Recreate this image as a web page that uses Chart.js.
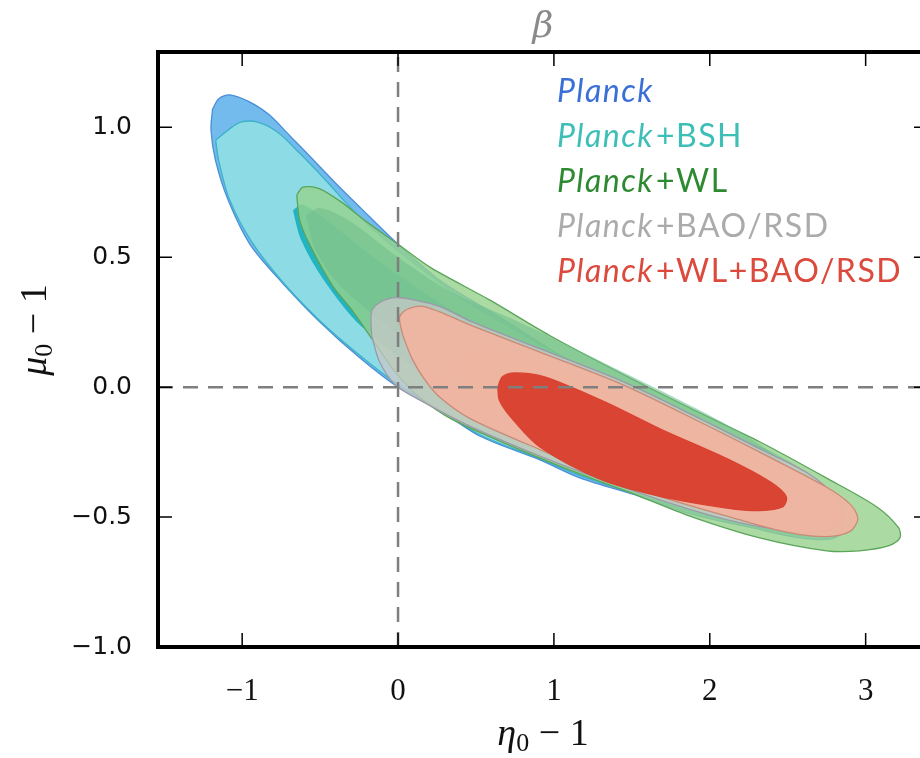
<!DOCTYPE html>
<html>
<head>
<meta charset="utf-8">
<script src="https://cdn.jsdelivr.net/npm/chart.js@4.4.1/dist/chart.umd.min.js"></script>
<style>
  html, body { margin: 0; padding: 0; background: #fff; overflow: hidden; }
  canvas { display: block; }
</style>
</head>
<body>
<canvas id="contourChart" width="960" height="758"></canvas>
<script>
// axis ticks
const xTickValues = [-1, 0, 1, 2, 3];
const xTickLabels = ['\u22121', '0', '1', '2', '3'];
const yTickValues = [-1, -0.5, 0, 0.5, 1];
const yTickLabels = ['\u22121.0', '\u22120.5', '0.0', '0.5', '1.0'];

// legend
const legendItalic = ['Planck', 'Planck', 'Planck', 'Planck', 'Planck'];
const legendRest = ['', '+BSH', '+WL', '+BAO/RSD', '+WL+BAO/RSD'];
const legendColors = ['#3a6fd8', '#3dbfb8', '#2e8a30', '#ababab', '#db4a3c'];

// contour outlines, [eta0-1, mu0-1]
const planckOuter = [[-1.19,1.07],[-1.15,1.11],[-1.08,1.125],[-0.96,1.10],[-0.83,1.05],[-0.69,0.965],[-0.56,0.885],[-0.40,0.785],[-0.24,0.69],[0.0,0.55],[0.27,0.41],[0.65,0.27],[1.23,0.05],[1.68,-0.10],[2.06,-0.18],[2.39,-0.26],[2.64,-0.34],[2.80,-0.42],[2.87,-0.50],[2.85,-0.56],[2.77,-0.585],[2.58,-0.58],[2.26,-0.54],[1.89,-0.49],[1.55,-0.42],[1.17,-0.35],[0.91,-0.28],[0.53,-0.19],[0.27,-0.09],[0.0,0.0],[-0.24,0.11],[-0.50,0.25],[-0.74,0.40],[-0.95,0.55],[-1.09,0.72],[-1.17,0.87],[-1.20,0.99]];
const planckInner = [[-0.72,0.76],[-0.64,0.775],[-0.44,0.70],[-0.12,0.53],[0.33,0.34],[0.97,0.14],[1.62,-0.05],[2.06,-0.20],[2.13,-0.27],[1.97,-0.30],[1.30,-0.20],[0.65,-0.05],[0.14,0.10],[-0.31,0.34],[-0.56,0.53],[-0.69,0.67]];
const bshOuter = [[-1.17,0.95],[-1.09,0.99],[-1.01,1.02],[-0.90,1.02],[-0.77,0.98],[-0.63,0.90],[-0.47,0.80],[-0.28,0.675],[-0.08,0.565],[0.14,0.46],[0.40,0.345],[0.78,0.21],[1.23,0.06],[1.68,-0.09],[2.06,-0.17],[2.39,-0.25],[2.64,-0.34],[2.79,-0.42],[2.85,-0.50],[2.82,-0.55],[2.74,-0.57],[2.58,-0.57],[2.26,-0.535],[1.89,-0.48],[1.55,-0.415],[1.17,-0.34],[0.91,-0.275],[0.53,-0.185],[0.27,-0.085],[0.0,0.01],[-0.24,0.12],[-0.50,0.255],[-0.74,0.405],[-0.94,0.56],[-1.08,0.72],[-1.15,0.87]];
const bshInner = [[-0.67,0.68],[-0.61,0.70],[-0.44,0.63],[-0.12,0.48],[0.33,0.30],[0.97,0.10],[1.62,-0.10],[2.0,-0.23],[2.03,-0.29],[1.87,-0.30],[1.30,-0.21],[0.65,-0.07],[0.14,0.07],[-0.24,0.24],[-0.48,0.42],[-0.62,0.57]];
const wlOuter = [[-0.65,0.74],[-0.61,0.77],[-0.51,0.765],[-0.37,0.715],[-0.21,0.64],[0.0,0.55],[0.21,0.46],[0.59,0.335],[0.97,0.20],[1.49,0.035],[1.94,-0.10],[2.32,-0.21],[2.75,-0.35],[3.07,-0.46],[3.21,-0.54],[3.22,-0.58],[3.15,-0.61],[2.96,-0.63],[2.75,-0.63],[2.32,-0.58],[1.89,-0.50],[1.55,-0.42],[1.17,-0.335],[0.78,-0.24],[0.35,-0.125],[0.14,-0.04],[-0.02,0.06],[-0.16,0.18],[-0.30,0.30],[-0.42,0.39],[-0.56,0.54],[-0.63,0.64]];
const wlInner = [[-0.59,0.66],[-0.50,0.69],[-0.31,0.64],[0.0,0.50],[0.33,0.37],[0.78,0.25],[1.30,0.10],[1.94,-0.09],[2.32,-0.22],[2.51,-0.32],[2.48,-0.38],[2.19,-0.36],[1.68,-0.26],[1.17,-0.15],[0.65,-0.03],[0.21,0.10],[-0.12,0.26],[-0.37,0.39],[-0.53,0.53]];
const baoOuter = [[-0.17,0.20],[-0.17,0.29],[-0.12,0.325],[-0.02,0.345],[0.11,0.335],[0.27,0.31],[0.48,0.25],[0.91,0.148],[1.44,0.022],[1.94,-0.122],[2.32,-0.237],[2.64,-0.335],[2.80,-0.42],[2.85,-0.49],[2.80,-0.54],[2.64,-0.56],[2.26,-0.53],[1.87,-0.47],[1.42,-0.38],[0.91,-0.265],[0.46,-0.15],[0.14,-0.05],[-0.02,0.01],[-0.12,0.10]];
const baoInner = [[0.37,0.06],[0.41,0.12],[0.53,0.15],[0.78,0.12],[1.30,0.0],[1.94,-0.16],[2.39,-0.30],[2.45,-0.38],[2.26,-0.40],[1.81,-0.35],[1.30,-0.25],[0.78,-0.13],[0.49,-0.04]];
const comboOuter = [[0.03,0.20],[0.01,0.27],[0.06,0.30],[0.17,0.31],[0.48,0.235],[0.91,0.135],[1.44,0.01],[1.94,-0.135],[2.32,-0.25],[2.75,-0.385],[2.90,-0.45],[2.95,-0.505],[2.90,-0.555],[2.75,-0.575],[2.51,-0.56],[2.19,-0.51],[1.55,-0.395],[0.91,-0.24],[0.46,-0.12],[0.27,-0.04],[0.17,0.03],[0.09,0.11]];
const comboInner = [[0.64,0.0],[0.67,0.04],[0.75,0.055],[0.94,0.04],[1.34,-0.06],[1.68,-0.16],[2.11,-0.275],[2.39,-0.365],[2.49,-0.42],[2.47,-0.46],[2.32,-0.475],[2.11,-0.465],[1.68,-0.42],[1.30,-0.355],[0.91,-0.23],[0.73,-0.12],[0.65,-0.05]];

// dashed reference lines
const zeroV = [[0, -1], [0, 1.29]];
const zeroH = [[-1.54, 0], [3.4, 0]];

const toPts = arr => arr.map(([x, y]) => ({ x, y }));
const closed = arr => toPts(arr.concat([arr[0]]));

function region(data, fillColor, lineColor) {
    return {
        data: closed(data),
        showLine: true,
        fill: 'shape',
        backgroundColor: fillColor,
        borderColor: lineColor,
        borderWidth: 1.3,
        pointRadius: 0,
        tension: 0.3
    };
}

// bottom layer first
const layers = [
    region(planckOuter, 'rgba(108,182,236,0.95)', '#4a8fd9'),
    region(planckInner, 'rgba(100,176,232,0.9)', 'rgba(100,176,232,0.9)'),
    region(bshOuter, 'rgba(143,221,229,0.95)', '#3cb2c8'),
    region(bshInner, 'rgba(30,178,192,0.95)', 'rgba(30,178,192,0.95)'),
    region(wlOuter, 'rgba(150,210,140,0.8)', '#5aa55a'),
    region(wlInner, 'rgba(110,190,140,0.55)', 'rgba(110,190,140,0.0)'),
    region(baoOuter, 'rgba(200,200,200,0.75)', '#9c9aa8'),
    region(baoInner, 'rgba(190,170,160,0.5)', 'rgba(190,170,160,0)'),
    region(comboOuter, 'rgba(242,180,160,0.92)', '#c98a78'),
    region(comboInner, 'rgba(217,65,47,0.97)', 'rgba(217,65,47,0.97)'),
    {
        data: toPts(zeroV), showLine: true, fill: false, borderColor: '#7f7f7f',
        borderWidth: 2.5, borderDash: [15, 10], pointRadius: 0
    },
    {
        data: toPts(zeroH), showLine: true, fill: false, borderColor: '#7f7f7f',
        borderWidth: 2.5, borderDash: [15, 10], pointRadius: 0
    }
];

// symbol (italic) + subscript 0 + upright " − 1", centred on (cx, cy)
function drawAxisLabel(ctx, symbol, cx, cy, angle) {
    const big = '38px "Liberation Serif"';
    const bigIt = 'italic 38px "Liberation Serif"';
    const small = '26px "Liberation Serif"';
    ctx.save();
    ctx.translate(cx, cy);
    ctx.rotate(angle);
    ctx.font = bigIt; const w1 = ctx.measureText(symbol).width;
    ctx.font = small; const w2 = ctx.measureText('0').width;
    ctx.font = big; const w3 = ctx.measureText(' \u2212 1').width;
    let x = -(w1 + w2 + w3) / 2;
    ctx.fillStyle = '#111';
    ctx.textBaseline = 'middle';
    ctx.textAlign = 'left';
    ctx.font = bigIt; ctx.fillText(symbol, x, 0); x += w1;
    ctx.font = small; ctx.fillText('0', x, 9); x += w2;
    ctx.font = big; ctx.fillText(' \u2212 1', x, 0);
    ctx.restore();
}

// frame, inward ticks, titles and legend
const decorations = {
    id: 'decorations',
    afterDraw(chart) {
        const { ctx, chartArea: a, scales } = chart;
        ctx.save();
        ctx.strokeStyle = '#000';
        ctx.lineWidth = 1.5;
        ctx.beginPath();
        xTickValues.forEach(v => {
            const px = scales.x.getPixelForValue(v);
            ctx.moveTo(px, a.top); ctx.lineTo(px, a.top + 14);
            ctx.moveTo(px, a.bottom); ctx.lineTo(px, a.bottom - 14);
        });
        yTickValues.forEach(v => {
            const py = scales.y.getPixelForValue(v);
            ctx.moveTo(a.left, py); ctx.lineTo(a.left + 14, py);
            ctx.moveTo(a.right, py); ctx.lineTo(a.right - 14, py);
        });
        ctx.stroke();

        ctx.lineWidth = 4;
        ctx.strokeRect(a.left, a.top, a.right - a.left, a.bottom - a.top);

        // panel title
        ctx.fillStyle = '#8a8a8a';
        ctx.font = 'italic 36px "DejaVu Serif"';
        ctx.textAlign = 'center';
        ctx.textBaseline = 'middle';
        ctx.fillText('\u03b2', (a.left + a.right) / 2, 28);

        // axis titles
        drawAxisLabel(ctx, '\u03b7', (a.left + a.right) / 2, 735, 0);
        drawAxisLabel(ctx, '\u03bc', 36, 330, -Math.PI / 2);

        // legend
        ctx.textAlign = 'left';
        ctx.textBaseline = 'alphabetic';
        ctx.letterSpacing = '1.5px';
        legendItalic.forEach((word, i) => {
            const x0 = 557, y0 = 102 + i * 45;
            ctx.fillStyle = legendColors[i];
            ctx.font = 'italic 32px Lato';
            ctx.fillText(word, x0, y0);
            const w = ctx.measureText(word).width;
            ctx.font = '32px Lato';
            ctx.fillText(legendRest[i], x0 + w + 2, y0);
        });
        ctx.restore();
    }
};

new Chart(document.getElementById('contourChart'), {
    type: 'scatter',
    data: { datasets: layers.slice().reverse() },
    options: {
        responsive: false,
        animation: false,
        events: [],
        layout: { padding: { top: 52, right: 32, left: 0, bottom: 0 } },
        plugins: { legend: { display: false }, tooltip: { enabled: false } },
        scales: {
            x: {
                type: 'linear',
                min: -1.54,
                max: 3.4,
                grid: { display: false },
                border: { display: false },
                afterBuildTicks: s => { s.ticks = xTickValues.map(v => ({ value: v })); },
                afterFit: s => { s.height = 111; },
                ticks: {
                    padding: 18,
                    color: '#111',
                    font: { family: 'Liberation Serif', size: 31 },
                    callback: v => xTickLabels[xTickValues.indexOf(v)]
                }
            },
            y: {
                type: 'linear',
                min: -1,
                max: 1.29,
                grid: { display: false },
                border: { display: false },
                afterBuildTicks: s => { s.ticks = yTickValues.map(v => ({ value: v })); },
                afterFit: s => { s.width = 158; },
                ticks: {
                    padding: 18,
                    color: '#111',
                    font: { family: 'DejaVu Sans', size: 25 },
                    callback: v => yTickLabels[yTickValues.indexOf(v)]
                }
            }
        }
    },
    plugins: [decorations]
});
</script>
</body>
</html>
